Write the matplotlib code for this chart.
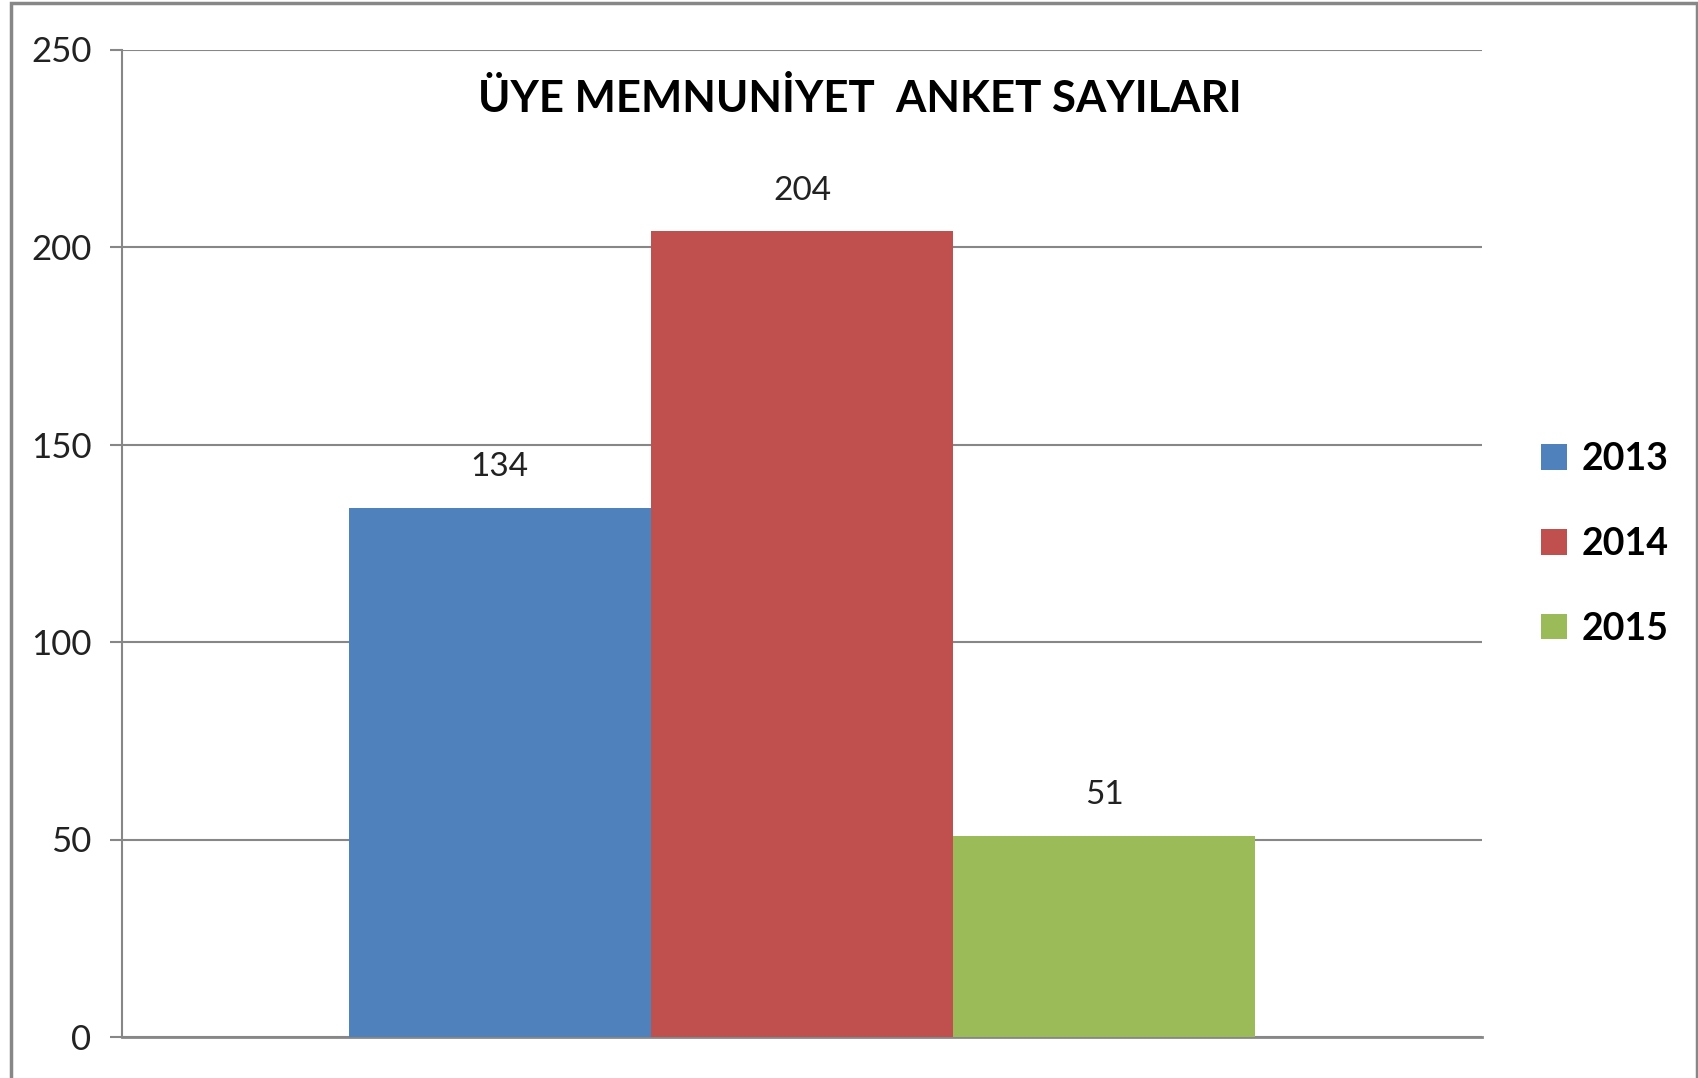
import matplotlib
matplotlib.use("Agg")
import matplotlib.pyplot as plt
from matplotlib.patches import Rectangle, Patch

years = ["2013", "2014", "2015"]
values = [134, 204, 51]
colors = ["#4F81BD", "#C0504D", "#9BBB59"]
yticks = [0, 50, 100, 150, 200, 250]
title = "ÜYE MEMNUNİYET  ANKET SAYILARI"

plt.rcParams['font.family'] = ['Lato', 'DejaVu Sans']

fig = plt.figure(figsize=(16.98, 10.78), dpi=100)
ax = fig.add_axes([122/1698, 41/1078, 1360/1698, 987.5/1078])

bw = 1/4.5
offsets = [-bw, 0, bw]
for y, v, c, o in zip(years, values, colors, offsets):
    ax.bar(o, v, width=bw, color=c, label=y, zorder=3)
    ax.text(o, v + 6.5, str(v), ha='center', va='bottom', fontsize=24, color='#222222')

ax.set_xlim(-0.5, 0.5)
ax.set_ylim(0, 250)
ax.set_yticks(yticks)
ax.set_xticks([])
ax.yaxis.grid(True, color='#878787', linewidth=1.5, zorder=0)
for s in ['top', 'right']:
    ax.spines[s].set_visible(False)
ax.spines['left'].set_color('#878787')
ax.spines['left'].set_linewidth(1.5)
ax.spines['bottom'].set_color('#878787')
ax.spines['bottom'].set_linewidth(2)
ax.tick_params(axis='y', length=9, width=1.5, color='#878787', labelsize=25, pad=13, labelcolor='#222222')

fig.text(860/1698, 1 - 99/1078, title, ha='center', va='center', fontsize=31.5, fontweight='bold')

handles = [Patch(facecolor=c, label=y) for y, c in zip(years, colors)]
leg = fig.legend(handles=handles, loc='center left', bbox_to_anchor=(1541/1698, 1 - 544/1078),
                 frameon=False, handlelength=0.68, handleheight=0.68,
                 handletextpad=0.4, labelspacing=1.35, borderaxespad=0, borderpad=0,
                 prop={'weight': 'bold', 'size': 27})

fig.patches.append(Rectangle((11/1698, -0.05), (1697 - 11)/1698, 1.05 - 3/1078,
                             transform=fig.transFigure, fill=False, edgecolor='#878787',
                             linewidth=2.5))

fig.savefig("out.png", dpi=100)
